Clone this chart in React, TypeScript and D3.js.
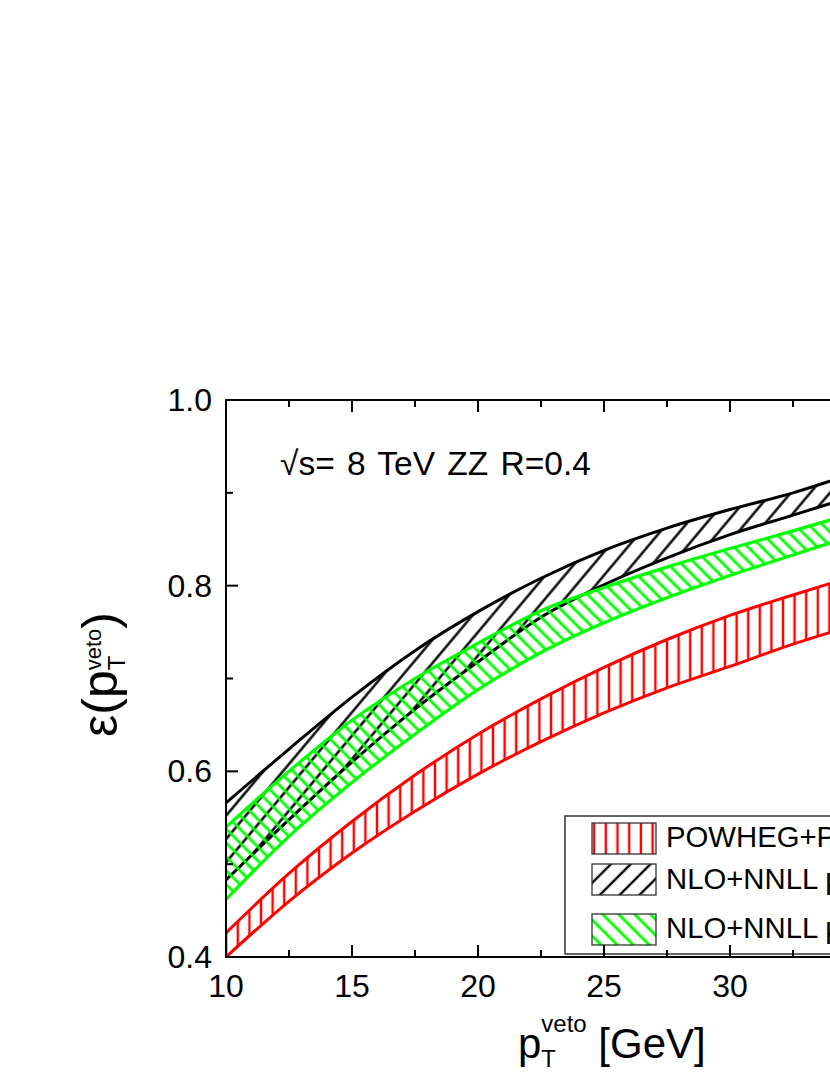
import React from 'react';
import * as d3 from 'd3';

// pT veto values (GeV)
const ptVeto = [10, 12.5, 15, 17.5, 20, 22.5, 25, 27.5, 30, 32.5, 35];

// POWHEG+PYTHIA band
const powhegUpper = [0.426, 0.49, 0.546, 0.596, 0.64, 0.678, 0.712, 0.742, 0.768, 0.79, 0.811];
const powhegLower = [0.4, 0.46, 0.512, 0.557, 0.597, 0.632, 0.663, 0.69, 0.713, 0.737, 0.758];

// NLO+NNLL band (black)
const nnllUpper = [0.566, 0.624, 0.68, 0.73, 0.772, 0.808, 0.838, 0.862, 0.882, 0.9, 0.922];
const nnllLower = [0.483, 0.548, 0.61, 0.667, 0.718, 0.766, 0.801, 0.83, 0.855, 0.876, 0.897];

// NLO+NNLL band (green)
const nnllGreenUpper = [0.54, 0.6, 0.655, 0.7, 0.738, 0.773, 0.798, 0.82, 0.84, 0.859, 0.879];
const nnllGreenLower = [0.462, 0.53, 0.588, 0.64, 0.688, 0.728, 0.76, 0.787, 0.811, 0.833, 0.855];

const xMajorTicks = [10, 15, 20, 25, 30, 35, 40];
const xMinorTicks = [12.5, 17.5, 22.5, 27.5, 32.5, 37.5];
const yMajorTicks = [0.4, 0.6, 0.8, 1.0];
const yMinorTicks = [0.5, 0.7, 0.9];

const legendLabels = ['POWHEG+PYTHIA', 'NLO+NNLL μ', 'NLO+NNLL μ'];

const font = '"Liberation Sans", Arial, sans-serif';

const left = 226;
const right = 982;
const top = 400;
const bottom = 957;

export default function App() {
  const x = d3.scaleLinear().domain([10, 40]).range([left, right]);
  const y = d3.scaleLinear().domain([0.4, 1.0]).range([bottom, top]);

  const makeBand = (upper: number[], lower: number[]) => {
    const pts = ptVeto.map((p, i) => ({ p, hi: upper[i], lo: lower[i] }));
    const area = d3
      .area<any>()
      .x((d) => x(d.p))
      .y0((d) => y(d.lo))
      .y1((d) => y(d.hi))
      .curve(d3.curveMonotoneX);
    const hiLine = d3
      .line<any>()
      .x((d) => x(d.p))
      .y((d) => y(d.hi))
      .curve(d3.curveMonotoneX);
    const loLine = d3
      .line<any>()
      .x((d) => x(d.p))
      .y((d) => y(d.lo))
      .curve(d3.curveMonotoneX);
    return { area: area(pts) || '', hi: hiLine(pts) || '', lo: loLine(pts) || '' };
  };

  const red = makeBand(powhegUpper, powhegLower);
  const black = makeBand(nnllUpper, nnllLower);
  const green = makeBand(nnllGreenUpper, nnllGreenLower);

  const bands = [
    { b: red, color: '#ff0000', fill: 'url(#hatchRed)', sw: 3 },
    { b: black, color: '#000000', fill: 'url(#hatchBlack)', sw: 3 },
    { b: green, color: '#00ff00', fill: 'url(#hatchGreen)', sw: 3.2 },
  ];

  const legendRows = [
    { y0: 823, base: 847, fill: 'url(#hatchRedLeg)' },
    { y0: 864, base: 889, fill: 'url(#hatchBlackLeg)' },
    { y0: 914, base: 938, fill: 'url(#hatchGreenLeg)' },
  ];

  return (
    <svg
      width={830}
      height={1075}
      style={{ position: 'absolute', left: 0, top: 0, background: '#fff' }}
      fontFamily={font}
    >
      <defs>
        <clipPath id="plotClip">
          <rect x={left} y={top} width={right - left} height={bottom - top} />
        </clipPath>
        <pattern id="hatchRed" patternUnits="userSpaceOnUse" width={11.6} height={20}>
          <line x1={5.8} y1={-1} x2={5.8} y2={21} stroke="#ff0000" strokeWidth={2.4} />
        </pattern>
        <pattern id="hatchBlack" patternUnits="userSpaceOnUse" width={15} height={20} patternTransform="rotate(40)">
          <line x1={7.5} y1={-1} x2={7.5} y2={21} stroke="#000" strokeWidth={2.4} />
        </pattern>
        <pattern id="hatchGreen" patternUnits="userSpaceOnUse" width={9.8} height={20} patternTransform="rotate(-45)">
          <line x1={4.9} y1={-1} x2={4.9} y2={21} stroke="#00ff00" strokeWidth={2.8} />
        </pattern>
        <pattern id="hatchRedLeg" patternUnits="userSpaceOnUse" width={11.7} height={20} x={600}>
          <line x1={5.8} y1={-1} x2={5.8} y2={21} stroke="#ff0000" strokeWidth={2.4} />
        </pattern>
        <pattern id="hatchBlackLeg" patternUnits="userSpaceOnUse" width={14} height={20} patternTransform="rotate(45)">
          <line x1={7} y1={-1} x2={7} y2={21} stroke="#000" strokeWidth={2.4} />
        </pattern>
        <pattern id="hatchGreenLeg" patternUnits="userSpaceOnUse" width={11.3} height={20} patternTransform="rotate(-45)">
          <line x1={5.6} y1={-1} x2={5.6} y2={21} stroke="#00ff00" strokeWidth={2.8} />
        </pattern>
      </defs>

      <g clipPath="url(#plotClip)">
        {bands.map((d, i) => (
          <g key={i}>
            <path d={d.b.area} fill={d.fill} stroke="none" />
            <path d={d.b.hi} fill="none" stroke={d.color} strokeWidth={d.sw} />
            <path d={d.b.lo} fill="none" stroke={d.color} strokeWidth={d.sw} />
          </g>
        ))}
      </g>

      {/* legend */}
      <rect x={565} y={816} width={400} height={138} fill="#fff" stroke="#333" strokeWidth={1.5} />
      {legendRows.map((r, i) => (
        <g key={i}>
          <rect x={592} y={r.y0} width={64} height={31} fill={r.fill} stroke="#333" strokeWidth={1.3} />
          <text x={666} y={r.base} fontSize={29.3} fill="#000">
            {legendLabels[i]}
          </text>
        </g>
      ))}

      {/* frame */}
      <rect x={left} y={top} width={right - left} height={bottom - top} fill="none" stroke="#000" strokeWidth={2} />

      {xMajorTicks.map((t) => (
        <g key={'xM' + t}>
          <line x1={x(t)} x2={x(t)} y1={bottom} y2={bottom - 12} stroke="#000" strokeWidth={2} />
          <line x1={x(t)} x2={x(t)} y1={top} y2={top + 12} stroke="#000" strokeWidth={2} />
          <text x={x(t)} y={997} fontSize={32} textAnchor="middle">
            {t}
          </text>
        </g>
      ))}
      {xMinorTicks.map((t) => (
        <g key={'xm' + t}>
          <line x1={x(t)} x2={x(t)} y1={bottom} y2={bottom - 7} stroke="#000" strokeWidth={2} />
          <line x1={x(t)} x2={x(t)} y1={top} y2={top + 7} stroke="#000" strokeWidth={2} />
        </g>
      ))}
      {yMajorTicks.map((t) => (
        <g key={'yM' + t}>
          <line x1={left} x2={left + 12} y1={y(t)} y2={y(t)} stroke="#000" strokeWidth={2} />
          <text x={212} y={y(t) + 11} fontSize={32} textAnchor="end">
            {t.toFixed(1)}
          </text>
        </g>
      ))}
      {yMinorTicks.map((t) => (
        <line key={'ym' + t} x1={left} x2={left + 7} y1={y(t)} y2={y(t)} stroke="#000" strokeWidth={2} />
      ))}

      <text x={280} y={475} fontSize={33.5} wordSpacing={3}>
        √s= 8 TeV ZZ R=0.4
      </text>

      {/* axis titles */}
      <text x={518} y={1058} fontSize={42}>
        p
        <tspan dy={9} fontSize={24}>T</tspan>
        <tspan dx={-14.7} dy={-35} fontSize={24}>veto</tspan>
        <tspan dy={26} fontSize={42}> [GeV]</tspan>
      </text>
      <text transform="translate(117,737) rotate(-90)" fontSize={50}>
        ε(p
        <tspan dy={8} fontSize={24}>T</tspan>
        <tspan dx={-14.7} dy={-24} fontSize={22}>veto</tspan>
        <tspan dy={16} fontSize={50}>)</tspan>
      </text>
    </svg>
  );
}
